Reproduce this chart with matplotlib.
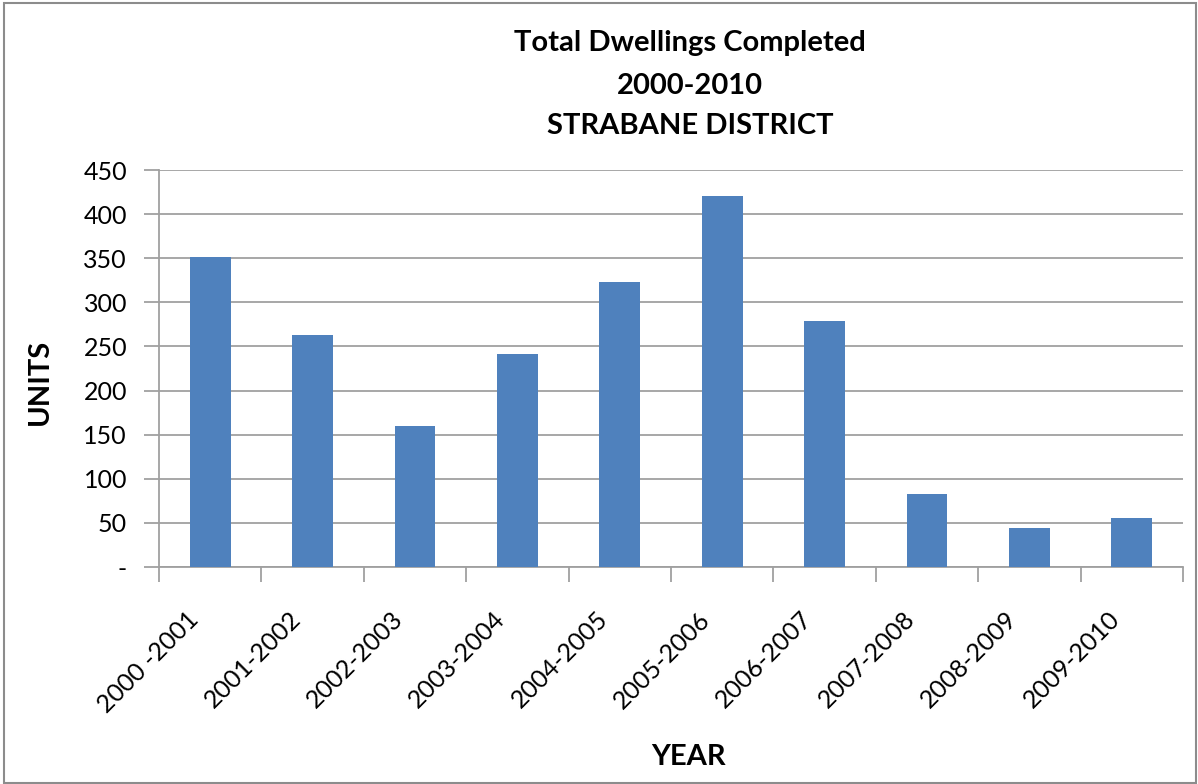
"""Total dwellings completed, Strabane District 2000-2010 (Excel-style bar chart)."""
import matplotlib.pyplot as plt
from matplotlib.patches import Rectangle
from matplotlib.ticker import FixedLocator, FuncFormatter
from matplotlib.transforms import ScaledTranslation

# --- Data ---
years = ["2000 -2001", "2001-2002", "2002-2003", "2003-2004", "2004-2005",
         "2005-2006", "2006-2007", "2007-2008", "2008-2009", "2009-2010"]
units = [351, 263, 160, 241, 323, 420, 279, 83, 44, 55]

plt.rcParams["font.family"] = ["Lato", "DejaVu Sans"]

bar_color = "#4f81bd"
grid_color = "#a0a0a0"

fig = plt.figure(figsize=(11.98, 7.84), dpi=100)
ax = fig.add_axes([159 / 1198, 1 - 567 / 784, (1183 - 159) / 1198, (567 - 170) / 784])

x = list(range(len(years)))
ax.bar(x, units, width=0.4, color=bar_color, zorder=3)

ax.set_xlim(-0.5, len(years) - 0.5)
ax.set_ylim(0, 450)
ax.set_yticks(range(0, 451, 50))
ax.yaxis.set_major_formatter(FuncFormatter(lambda v, p: "-" if v == 0 else f"{int(v)}"))
ax.grid(axis="y", color=grid_color, linewidth=1.3, zorder=0)
ax.tick_params(axis="y", length=11, width=1.3, color=grid_color, labelsize=18, pad=12)

ax.set_xticks(x)
ax.set_xticklabels(years, rotation=45, ha="right", va="center",
                   rotation_mode="anchor", fontsize=18)
ax.tick_params(axis="x", which="major", length=0, pad=35)
shift = ScaledTranslation(-16 / 100, 0, fig.dpi_scale_trans)
for lbl in ax.get_xticklabels():
    lbl.set_transform(lbl.get_transform() + shift)
ax.xaxis.set_minor_locator(FixedLocator([i - 0.5 for i in range(len(years) + 1)]))
ax.tick_params(axis="x", which="minor", length=11, width=1.3, color=grid_color)

for side in ["top", "right"]:
    ax.spines[side].set_visible(False)
for side in ["left", "bottom"]:
    ax.spines[side].set_color(grid_color)
    ax.spines[side].set_linewidth(1.3)

# Titles and axis labels
title_lines = [("Total Dwellings Completed", 51), ("2000-2010", 94), ("STRABANE DISTRICT", 134)]
for txt, base in title_lines:
    fig.text(690 / 1198, 1 - base / 784, txt, ha="center", va="baseline",
             fontsize=21, fontweight="bold")
fig.text(40 / 1198, 1 - 382 / 784, "UNITS", ha="center", va="center", rotation=90,
         fontsize=21, fontweight="bold")
fig.text(688 / 1198, 1 - 757 / 784, "YEAR", ha="center", va="center",
         fontsize=21, fontweight="bold")

# Chart border
fig.patches.append(Rectangle((4 / 1198, 1 / 784), 1192 / 1198, 780 / 784,
                             transform=fig.transFigure, fill=False,
                             edgecolor="#8c8c8c", linewidth=1.5))

plt.savefig("out.png", dpi=100)
